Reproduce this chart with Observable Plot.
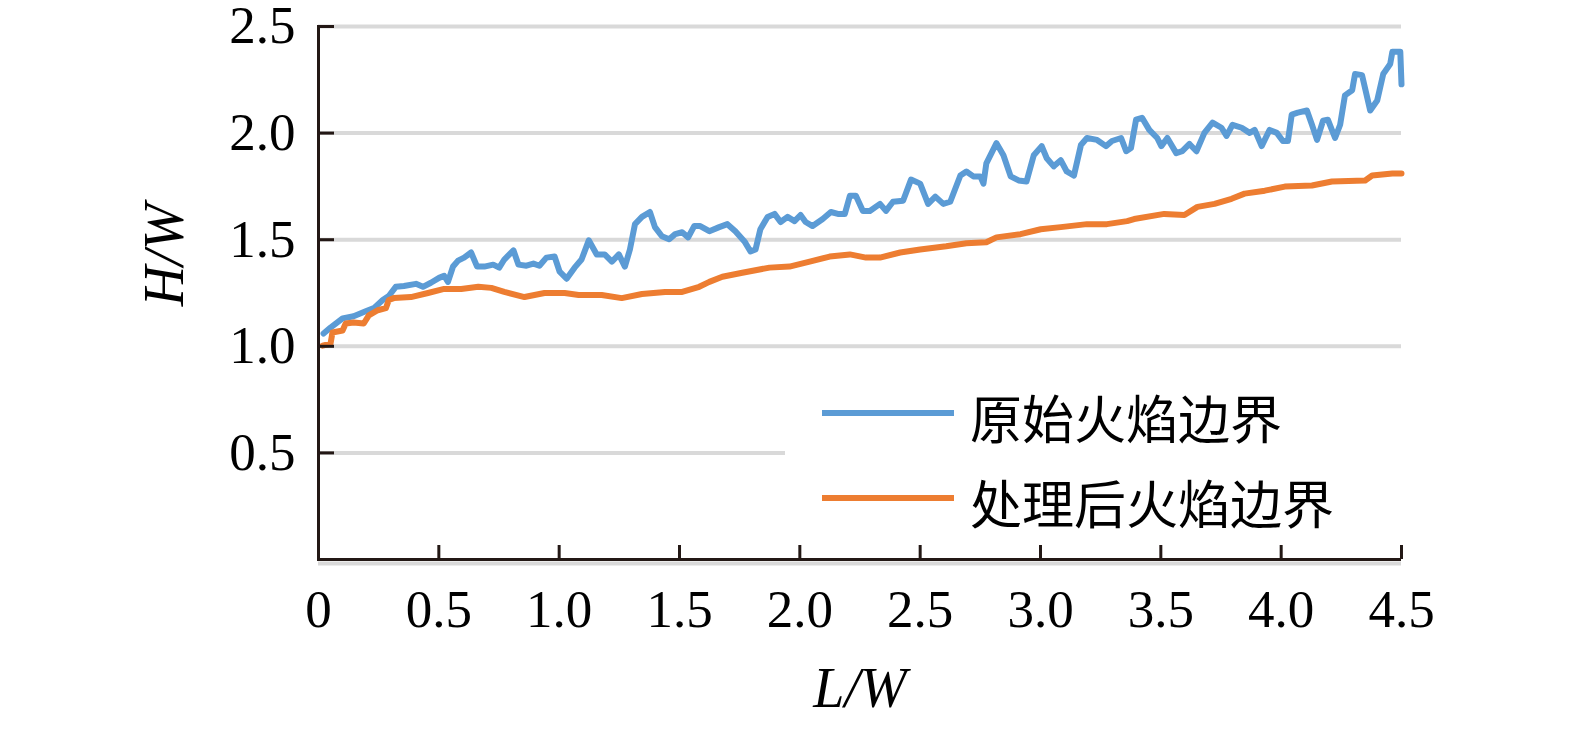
<!DOCTYPE html>
<html>
<head>
<meta charset="utf-8">
<script src="https://cdn.jsdelivr.net/npm/d3@7"></script>
<script src="https://cdn.jsdelivr.net/npm/@observablehq/plot@0.6"></script>
<style>
  html, body { margin: 0; padding: 0; background: #fff; }
  #wrap { position: relative; width: 1575px; height: 730px; overflow: hidden; }
  #legend { position: absolute; left: 785px; top: 365px; width: 622px; height: 180px; background: #fff; }
  .row { position: absolute; left: 0; height: 60px; display: flex; align-items: center; }
  .swatch { display: inline-block; width: 132px; height: 6px; }
  .lbl { margin-left: 16px; font-family: "Noto Sans CJK SC", sans-serif; font-size: 52px; color: #000; line-height: 60px; position: relative; top: 4px; }
</style>
</head>
<body>
<div id="wrap">
  <div id="chart"></div>
  <div id="legend"></div>
</div>
<script>
// ---- data ----
const xTicks = [0, 0.5, 1.0, 1.5, 2.0, 2.5, 3.0, 3.5, 4.0, 4.5];
const yTicks = [0.5, 1.0, 1.5, 2.0, 2.5];
const seriesNames = ["原始火焰边界", "处理后火焰边界"];
const seriesColors = ["#5b9bd5", "#ed7d31"];
const xLabel = ["L/W"];
const yLabel = ["H/W"];

// 原始火焰边界 (raw boundary)
const rawX = [0.021,0.050,0.100,0.146,0.196,0.230,0.267,0.292,0.321,0.355,0.405,0.434,0.467,0.501,0.522,0.538,0.559,0.580,0.605,0.634,0.659,0.689,0.726,0.751,0.772,0.810,0.831,0.864,0.893,0.918,0.947,0.981,1.002,1.031,1.064,1.093,1.123,1.156,1.189,1.219,1.248,1.273,1.294,1.315,1.344,1.377,1.398,1.427,1.457,1.482,1.511,1.536,1.561,1.586,1.624,1.665,1.699,1.732,1.770,1.795,1.816,1.836,1.866,1.895,1.920,1.949,1.978,2.003,2.024,2.053,2.095,2.129,2.158,2.187,2.208,2.233,2.262,2.291,2.333,2.358,2.387,2.429,2.462,2.500,2.533,2.563,2.596,2.625,2.667,2.692,2.721,2.750,2.763,2.775,2.817,2.846,2.876,2.909,2.942,2.972,3.005,3.026,3.055,3.084,3.109,3.139,3.168,3.193,3.235,3.272,3.297,3.335,3.356,3.376,3.397,3.422,3.452,3.485,3.502,3.527,3.564,3.589,3.619,3.648,3.681,3.715,3.752,3.773,3.798,3.836,3.869,3.890,3.919,3.952,3.982,4.007,4.028,4.044,4.069,4.107,4.128,4.149,4.174,4.194,4.224,4.245,4.265,4.295,4.307,4.336,4.370,4.399,4.424,4.453,4.462,4.495,4.500];
const rawY = [1.060,1.088,1.131,1.141,1.164,1.179,1.217,1.236,1.279,1.283,1.293,1.279,1.298,1.321,1.331,1.302,1.374,1.402,1.416,1.440,1.374,1.374,1.383,1.369,1.407,1.450,1.383,1.378,1.388,1.378,1.416,1.421,1.350,1.317,1.369,1.407,1.497,1.431,1.431,1.397,1.431,1.374,1.454,1.573,1.607,1.630,1.559,1.516,1.502,1.526,1.535,1.511,1.564,1.564,1.540,1.559,1.573,1.540,1.492,1.445,1.454,1.549,1.607,1.621,1.583,1.607,1.587,1.616,1.583,1.564,1.597,1.630,1.621,1.621,1.706,1.706,1.635,1.635,1.668,1.635,1.678,1.683,1.782,1.763,1.668,1.702,1.668,1.678,1.801,1.820,1.797,1.797,1.763,1.858,1.953,1.896,1.797,1.778,1.773,1.896,1.939,1.882,1.844,1.873,1.820,1.801,1.944,1.977,1.968,1.939,1.963,1.977,1.915,1.930,2.063,2.072,2.015,1.977,1.939,1.977,1.906,1.915,1.949,1.915,2.001,2.049,2.025,1.987,2.039,2.025,2.001,2.015,1.939,2.015,2.001,1.963,1.963,2.087,2.096,2.106,2.039,1.968,2.058,2.063,1.977,2.039,2.177,2.201,2.277,2.272,2.106,2.153,2.277,2.324,2.381,2.381,2.229];

// 处理后火焰边界 (processed boundary)
const procX = [0.017,0.050,0.058,0.100,0.113,0.146,0.188,0.209,0.246,0.280,0.292,0.313,0.384,0.455,0.522,0.593,0.664,0.718,0.772,0.856,0.939,1.023,1.081,1.177,1.260,1.344,1.440,1.511,1.582,1.624,1.678,1.761,1.874,1.957,2.041,2.124,2.208,2.275,2.333,2.417,2.500,2.608,2.692,2.775,2.817,2.917,3.001,3.084,3.193,3.276,3.360,3.389,3.514,3.598,3.652,3.723,3.794,3.848,3.932,4.015,4.128,4.211,4.349,4.378,4.462,4.500];
const procY = [1.003,1.012,1.065,1.074,1.107,1.112,1.107,1.145,1.169,1.179,1.217,1.226,1.231,1.250,1.269,1.269,1.279,1.274,1.255,1.231,1.250,1.250,1.241,1.241,1.226,1.245,1.255,1.255,1.279,1.302,1.326,1.345,1.369,1.374,1.397,1.421,1.431,1.416,1.416,1.440,1.454,1.469,1.483,1.488,1.511,1.526,1.549,1.559,1.573,1.573,1.587,1.597,1.621,1.616,1.654,1.668,1.692,1.716,1.730,1.749,1.754,1.773,1.778,1.801,1.811,1.811];

const raw = rawX.map((x, i) => ({x, y: rawY[i]}));
const proc = procX.map((x, i) => ({x, y: procY[i]}));

const axisColor = "#231815";
const fmtX = d => d === 0 ? "0" : d3.format(".1f")(d);

const chart = Plot.plot({
  width: 1575,
  height: 730,
  marginLeft: 318,
  marginRight: 174,
  marginTop: 26,
  marginBottom: 171,
  style: {fontFamily: "'Liberation Serif', 'Times New Roman', serif", fontSize: "53px", background: "#fff", color: "#000"},
  x: {domain: [0, 4.5]},
  y: {domain: [0, 2.5]},
  marks: [
    Plot.ruleY(yTicks, {stroke: "#d9d9d9", strokeWidth: 4}),
    Plot.ruleY([0], {stroke: "#d9d9d9", strokeWidth: 4, dy: 4}),
    Plot.line(raw, {x: "x", y: "y", stroke: seriesColors[0], strokeWidth: 6, strokeLinejoin: "round", strokeLinecap: "round"}),
    Plot.line(proc, {x: "x", y: "y", stroke: seriesColors[1], strokeWidth: 6, strokeLinejoin: "round", strokeLinecap: "round"}),
    Plot.ruleX([0], {stroke: axisColor, strokeWidth: 3, insetTop: -1, insetBottom: -2}),
    Plot.ruleY([0], {stroke: axisColor, strokeWidth: 3}),
    Plot.axisY(yTicks, {tickSize: -16, stroke: axisColor, strokeWidth: 3, tickFormat: () => "", label: null}),
    Plot.axisY(yTicks, {tickSize: 0, tickPadding: 23, tickFormat: d3.format(".1f"), fontSize: 53, fill: "#000", label: null}),
    Plot.axisX(xTicks, {tickSize: -14, stroke: axisColor, strokeWidth: 3, tickFormat: () => "", label: null}),
    Plot.axisX(xTicks, {tickSize: 0, tickPadding: 30, tickFormat: fmtX, fontSize: 53, fill: "#000", label: null}),
    Plot.text(yLabel, {text: d => d, frameAnchor: "left", textAnchor: "middle", dx: -153, dy: -38, rotate: -90, fontStyle: "italic", fontSize: 56, fill: "#000"}),
    Plot.text(xLabel, {text: d => d, frameAnchor: "bottom", textAnchor: "middle", dx: 0, dy: 147, fontStyle: "italic", fontSize: 56, fill: "#000"})
  ]
});
document.getElementById("chart").appendChild(chart);

const legend = document.getElementById("legend");
seriesNames.forEach((name, i) => {
  const row = document.createElement("div");
  row.className = "row";
  row.style.left = "37px";
  row.style.top = (18 + i * 85) + "px";
  const sw = document.createElement("span");
  sw.className = "swatch";
  sw.style.background = seriesColors[i];
  const lb = document.createElement("span");
  lb.className = "lbl";
  lb.textContent = name;
  row.appendChild(sw);
  row.appendChild(lb);
  legend.appendChild(row);
});
</script>
</body>
</html>
